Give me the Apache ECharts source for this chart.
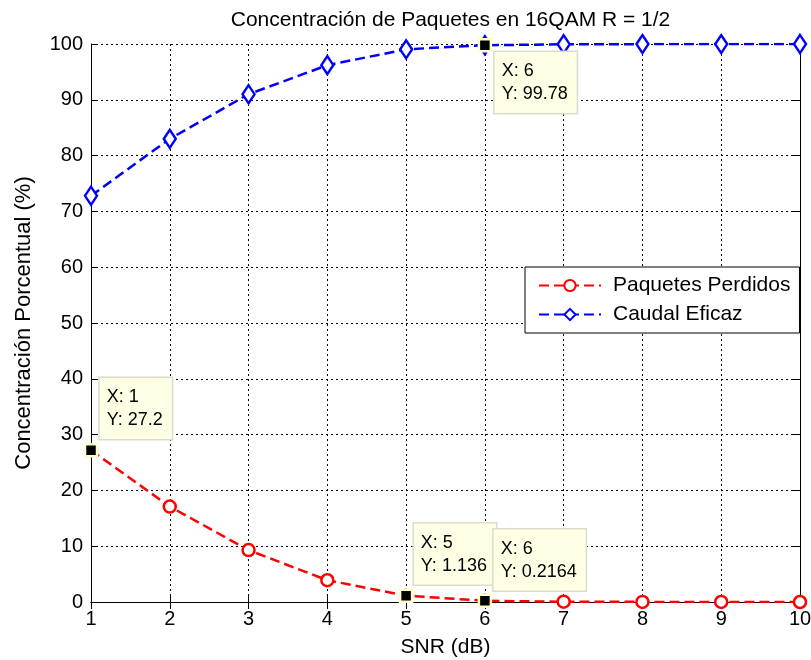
<!DOCTYPE html>
<html>
<head>
<meta charset="utf-8">
<script src="https://cdn.jsdelivr.net/npm/echarts@6/dist/echarts.min.js"></script>
<style>html,body{margin:0;padding:0;background:#fff}#c{width:811px;height:660px}</style>
</head>
<body>
<div id="c"></div>
<script>
var snr = [1, 2, 3, 4, 5, 6, 7, 8, 9, 10];
var perdidos = [27.2, 17.1, 9.3, 3.9, 1.136, 0.2164, 0.05, 0.02, 0.01, 0.0];
var caudal = [72.8, 83.0, 91.0, 96.2, 99.05, 99.78, 99.95, 99.98, 99.99, 100.0];
var xTicks = [1, 2, 3, 4, 5, 6, 7, 8, 9, 10];
var yTicks = [0, 10, 20, 30, 40, 50, 60, 70, 80, 90, 100];
var tipX = [1, 6, 5, 6];
var tipY = [27.2, 99.78, 1.136, 0.2164];
var tipLabel = ['27.2', '99.78', '1.136', '0.2164'];
var tipOffset = [[16, -65], [17, 14], [15, -65], [16, -64]];

var FONT = 'Liberation Sans, Arial, sans-serif';
var chart = echarts.init(document.getElementById('c'), null, {renderer: 'canvas'});

function pairs(xs, ys) { return xs.map(function (x, i) { return [x, ys[i]]; }); }

var tipSeries = tipX.map(function (x, i) {
  return {
    name: 'tip' + i, type: 'scatter',
    data: [[x, tipY[i]]],
    symbol: 'rect', symbolSize: 12,
    itemStyle: {color: '#000', borderColor: '#ffffcc', borderWidth: 2.5, opacity: 1},
    label: {
      show: true,
      position: tipOffset[i],
      formatter: 'X: ' + x + '\nY: ' + tipLabel[i],
      align: 'left', verticalAlign: 'top',
      fontFamily: FONT, fontSize: 18, color: '#000', lineHeight: 23,
      backgroundColor: '#ffffe6', borderColor: '#dcdccc', borderWidth: 1.5,
      padding: [8, 9, 7, 7]
    },
    emphasis: {disabled: true},
    z: 10 + i, zlevel: i + 1, silent: true
  };
});

var option = {
  animation: false,
  backgroundColor: '#fff',
  title: {
    text: 'Concentración de Paquetes en 16QAM R = 1/2',
    left: 445.5, top: 5, textAlign: 'center',
    textStyle: {fontFamily: FONT, fontSize: 21, fontWeight: 'normal', color: '#000'}
  },
  legend: {
    orient: 'vertical',
    left: 525, top: 267,
    padding: [8, 9, 8, 13],
    itemWidth: 62, itemHeight: 14, itemGap: 8,
    borderColor: '#000', borderWidth: 1, backgroundColor: '#fff',
    textStyle: {fontFamily: FONT, fontSize: 21, color: '#000', padding: [0, 0, 0, 7]},
    data: ['Paquetes Perdidos', 'Caudal Eficaz']
  },
  grid: {left: 91, right: 11, top: 44, bottom: 58, containLabel: false, outerBoundsMode: 'none'},
  xAxis: [{
    type: 'value', min: 1, max: 10, interval: 1,
    name: 'SNR (dB)', nameLocation: 'middle', nameGap: 35,
    nameTextStyle: {fontFamily: FONT, fontSize: 21, color: '#000'},
    axisLine: {show: true, lineStyle: {color: '#000', width: 1}},
    axisTick: {show: true, inside: true, length: 7, lineStyle: {color: '#000'}},
    axisLabel: {fontFamily: FONT, fontSize: 20, color: '#000', margin: 7,
      formatter: function (v) { return xTicks.indexOf(v) >= 0 ? String(v) : ''; }},
    splitLine: {show: true, lineStyle: {color: '#000', type: [2, 3], width: 1}}
  }, {
    type: 'value', min: 1, max: 10, interval: 1, position: 'top',
    axisLine: {show: true, lineStyle: {color: '#000', width: 1}},
    axisTick: {show: true, inside: true, length: 7, lineStyle: {color: '#000'}},
    axisLabel: {show: false}, splitLine: {show: false}
  }],
  yAxis: [{
    type: 'value', min: 0, max: 100, interval: 10,
    name: 'Concentración Porcentual (%)', nameLocation: 'middle', nameGap: 56,
    nameTextStyle: {fontFamily: FONT, fontSize: 22, color: '#000'},
    axisLine: {show: true, lineStyle: {color: '#000', width: 1}},
    axisTick: {show: true, inside: true, length: 7, lineStyle: {color: '#000'}},
    axisLabel: {fontFamily: FONT, fontSize: 20, color: '#000', margin: 8,
      formatter: function (v) { return yTicks.indexOf(v) >= 0 ? String(v) : ''; }},
    splitLine: {show: true, lineStyle: {color: '#000', type: [2, 3], width: 1}}
  }, {
    type: 'value', min: 0, max: 100, interval: 10, position: 'right',
    axisLine: {show: true, lineStyle: {color: '#000', width: 1}},
    axisTick: {show: true, inside: true, length: 7, lineStyle: {color: '#000'}},
    axisLabel: {show: false}, splitLine: {show: false}
  }],
  series: [{
    name: 'Paquetes Perdidos', type: 'line',
    data: pairs(snr, perdidos),
    symbol: 'circle', symbolSize: 12, showAllSymbol: true,
    lineStyle: {color: '#ff0000', width: 2.5, type: [10, 5]},
    itemStyle: {color: '#fff', borderColor: '#ff0000', borderWidth: 2.5},
    z: 3
  }, {
    name: 'Caudal Eficaz', type: 'line',
    data: pairs(snr, caudal),
    symbol: 'diamond', symbolSize: [12, 18], showAllSymbol: true,
    lineStyle: {color: '#0000ff', width: 2.5, type: [10, 5]},
    itemStyle: {color: '#fff', borderColor: '#0000ff', borderWidth: 2.5},
    z: 3
  }].concat(tipSeries)
};
chart.setOption(option);
</script>
</body>
</html>
